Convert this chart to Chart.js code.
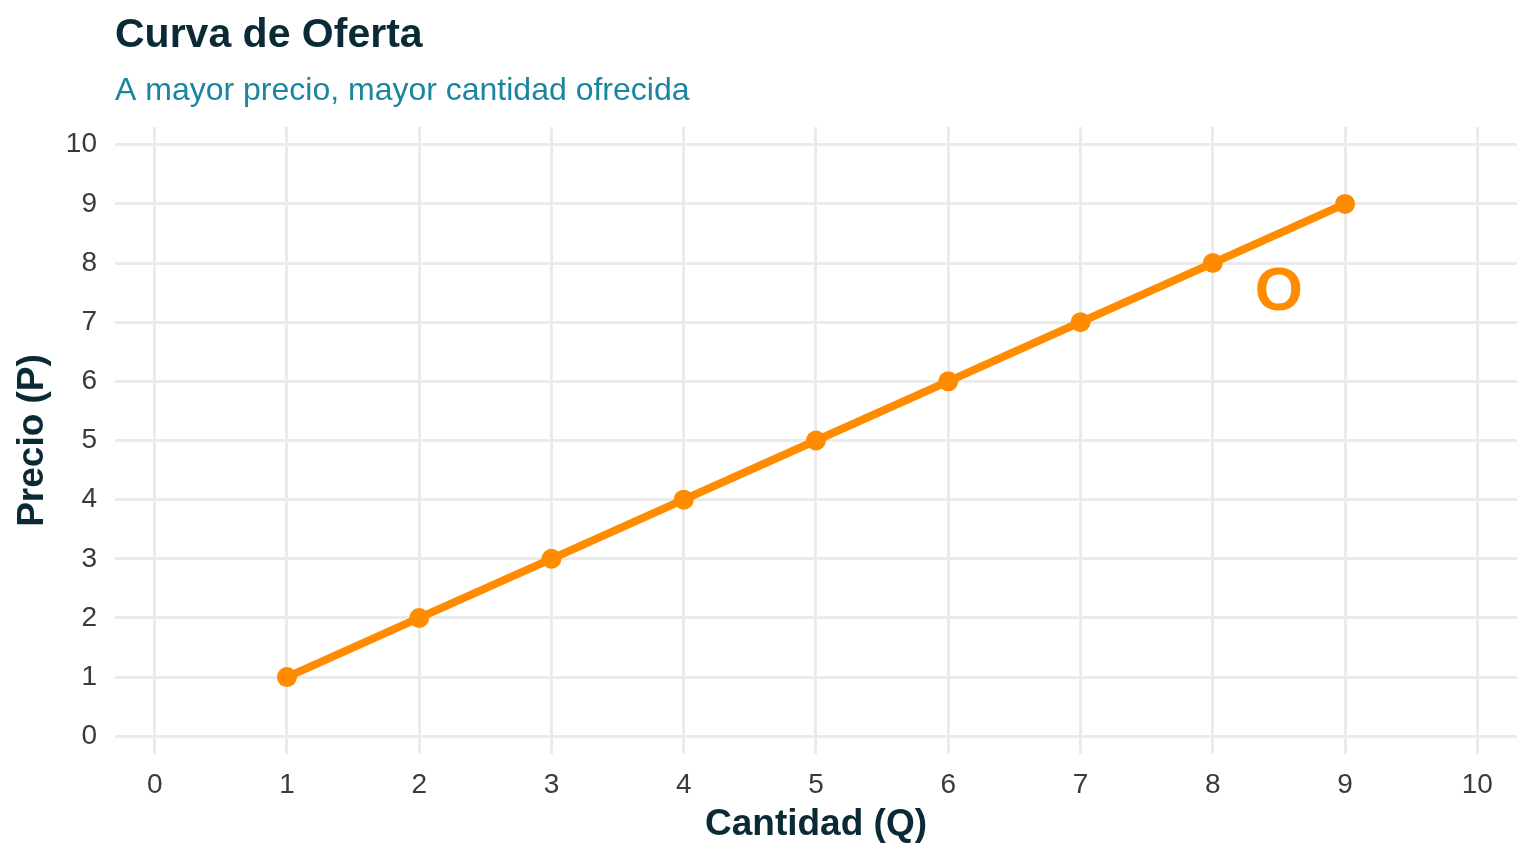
<!DOCTYPE html>
<html><head><meta charset="utf-8">
<script src="https://cdn.jsdelivr.net/npm/chart.js@4.4.1/dist/chart.umd.min.js"></script>
<style>html,body{margin:0;padding:0;background:#fff;overflow:hidden;} canvas{display:block;}</style>
</head><body>
<canvas id="c" width="1536" height="864"></canvas>
<script>
const cantidad = [1, 2, 3, 4, 5, 6, 7, 8, 9];
const precio = [1, 2, 3, 4, 5, 6, 7, 8, 9];
const xTicks = [0, 1, 2, 3, 4, 5, 6, 7, 8, 9, 10];
const yTicks = [0, 1, 2, 3, 4, 5, 6, 7, 8, 9, 10];
const curveLabel = 'O';
const curveLabelPos = [8.5, 7.5];
const titleText = 'Curva de Oferta';
const subtitleText = 'A mayor precio, mayor cantidad ofrecida';
const xTitle = 'Cantidad (Q)';
const yTitle = 'Precio (P)';

const FONT = '"Liberation Sans", Arial, Helvetica, sans-serif';
const ORANGE = '#FF8C00';
const DARK = '#0a2a36';
const TEAL = '#1a85a0';
const GRID = '#ebebeb';

const points = cantidad.map((q, i) => ({ x: q, y: precio[i] }));

const labelPlugin = {
  id: 'curveLabel',
  afterDatasetsDraw(chart) {
    const { ctx, scales: { x, y } } = chart;
    ctx.save();
    ctx.font = 'bold 62px ' + FONT;
    ctx.fillStyle = ORANGE;
    ctx.textAlign = 'center';
    ctx.textBaseline = 'middle';
    ctx.fillText(curveLabel, x.getPixelForValue(curveLabelPos[0]), y.getPixelForValue(curveLabelPos[1]));
    ctx.restore();
  }
};

new Chart(document.getElementById('c'), {
  type: 'line',
  data: {
    datasets: [{
      data: points,
      borderColor: ORANGE,
      backgroundColor: ORANGE,
      borderWidth: 8,
      pointRadius: 10,
      pointBorderWidth: 0,
      pointBackgroundColor: ORANGE,
      tension: 0,
      fill: false
    }]
  },
  options: {
    responsive: false,
    animation: false,
    devicePixelRatio: 1,
    layout: { padding: { left: 0, right: 19, top: 0, bottom: 0 } },
    plugins: {
      legend: { display: false },
      tooltip: { enabled: false },
      title: {
        display: true, text: titleText, align: 'start', fullSize: false,
        color: DARK, font: { family: FONT, size: 41, weight: 'bold', lineHeight: 1.2 },
        padding: { top: 11.5, bottom: 0 }
      },
      subtitle: {
        display: true, text: subtitleText, align: 'start', fullSize: false,
        color: TEAL, font: { family: FONT, size: 32, weight: 'normal', lineHeight: 1.2 },
        padding: { top: 11.1, bottom: 16.8 }
      }
    },
    scales: {
      x: {
        type: 'linear', min: -0.3, max: 10.3,
        afterBuildTicks(scale) { scale.ticks = xTicks.map(v => ({ value: v })); },
        afterFit(scale) { scale.height = 110; },
        border: { display: false },
        grid: { color: GRID, lineWidth: 3, drawTicks: false },
        ticks: { color: '#3a3a3a', font: { family: FONT, size: 28 }, padding: 14, maxRotation: 0, autoSkip: false },
        title: { display: true, text: xTitle, color: DARK, font: { family: FONT, size: 37, weight: 'bold', lineHeight: 1.2 }, padding: { top: 0, bottom: 17.4 } }
      },
      y: {
        type: 'linear', min: -0.3, max: 10.3,
        afterBuildTicks(scale) { scale.ticks = yTicks.map(v => ({ value: v })); },
        afterFit(scale) { scale.width = 115; },
        border: { display: false },
        grid: { color: GRID, lineWidth: 3, drawTicks: false },
        ticks: { color: '#3a3a3a', font: { family: FONT, size: 28 }, padding: 18, autoSkip: false },
        title: { display: true, text: yTitle, color: DARK, font: { family: FONT, size: 37, weight: 'bold', lineHeight: 1.2 }, padding: { top: 11, bottom: 0 } }
      }
    }
  },
  plugins: [labelPlugin]
});
</script>
</body></html>
